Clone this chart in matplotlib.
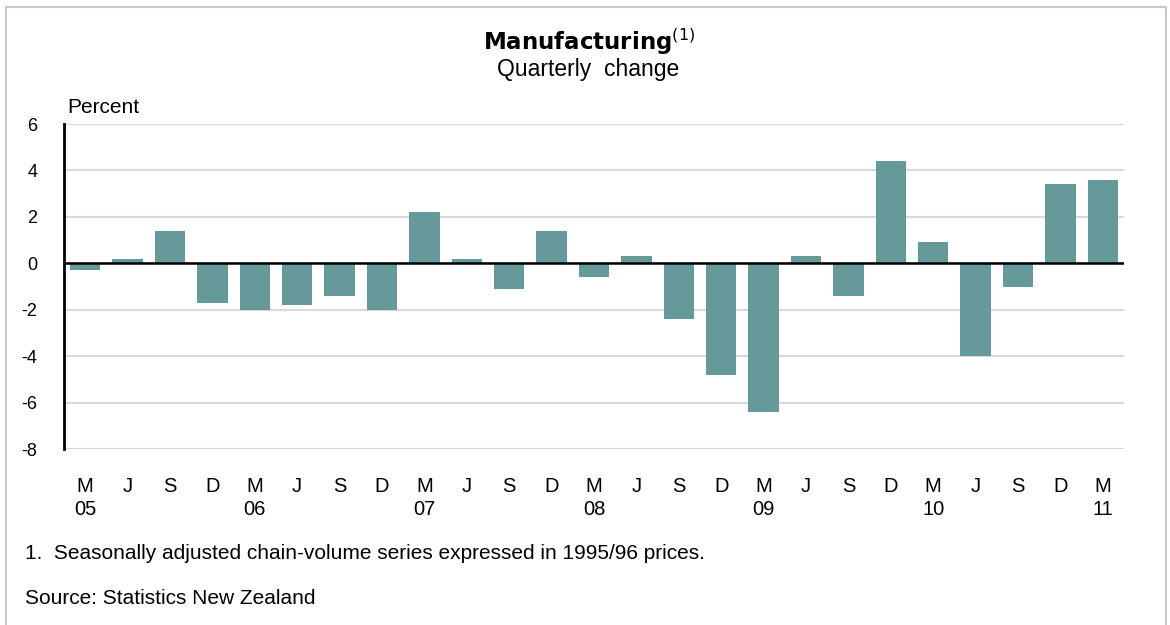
import matplotlib
matplotlib.use("Agg")
import matplotlib.pyplot as plt
from matplotlib.patches import Rectangle

plt.rcParams['font.family'] = ['Liberation Sans', 'DejaVu Sans']
plt.rcParams['axes.unicode_minus'] = False

# Quarterly change, percent (March 2005 to March 2011)
quarters = ["M\n05", "J", "S", "D",
            "M\n06", "J", "S", "D",
            "M\n07", "J", "S", "D",
            "M\n08", "J", "S", "D",
            "M\n09", "J", "S", "D",
            "M\n10", "J", "S", "D",
            "M\n11"]
changes = [-0.3, 0.2, 1.4, -1.7,
           -2.0, -1.8, -1.4, -2.0,
           2.2, 0.2, -1.1, 1.4,
           -0.6, 0.3, -2.4, -4.8,
           -6.4, 0.3, -1.4, 4.4,
           0.9, -4.0, -1.0, 3.4,
           3.6]
y_ticks = [-8, -6, -4, -2, 0, 2, 4, 6]

W, H = 1170, 625
fig = plt.figure(figsize=(W / 100, H / 100), dpi=100)

# light grey frame round the chart
fig.patches.append(Rectangle((6 / W, -0.05), 1160 / W, 1 - 7 / H + 0.05,
                             transform=fig.transFigure, fill=False,
                             edgecolor='#c8c8c8', linewidth=1.5))

ax = fig.add_axes([64 / W, 1 - 449 / H, 1060 / W, 325 / H])

x = list(range(len(changes)))
ax.bar(x, changes, width=0.72, color='#669999', zorder=3)

ax.set_xlim(-0.5, len(changes) - 0.5)
ax.set_ylim(-8, 6)
ax.set_yticks(y_ticks)
ax.set_yticklabels([str(v) for v in y_ticks], fontsize=13)
ax.set_xticks(x)
ax.set_xticklabels(quarters, fontsize=14.5, linespacing=1.25, va='top')
ax.tick_params(axis='y', length=0, pad=19)
ax.tick_params(axis='x', length=0, pad=20)

ax.grid(axis='y', color='#d9d9d9', linewidth=1.5, zorder=0)
ax.axhline(0, color='black', linewidth=1.8, zorder=4)
for s in ['top', 'right', 'bottom']:
    ax.spines[s].set_visible(False)
ax.spines['left'].set_linewidth(2)
ax.spines['left'].set_color('black')
ax.spines['left'].set_zorder(5)

fig.text(589 / W, 1 - 50 / H, r"$\mathbf{Manufacturing}^{(1)}$", ha='center',
         va='baseline', fontsize=16.5)
fig.text(588 / W, 1 - 76 / H, "Quarterly  change", ha='center', va='baseline',
         fontsize=16.5)
fig.text(67 / W, 1 - 113 / H, "Percent", ha='left', va='baseline', fontsize=15)

fig.text(25 / W, 1 - 559 / H,
         "1.  Seasonally adjusted chain-volume series expressed in 1995/96 prices.",
         ha='left', va='baseline', fontsize=15)
fig.text(25 / W, 1 - 604 / H, "Source: Statistics New Zealand",
         ha='left', va='baseline', fontsize=15)

fig.savefig("out.png", dpi=100)
